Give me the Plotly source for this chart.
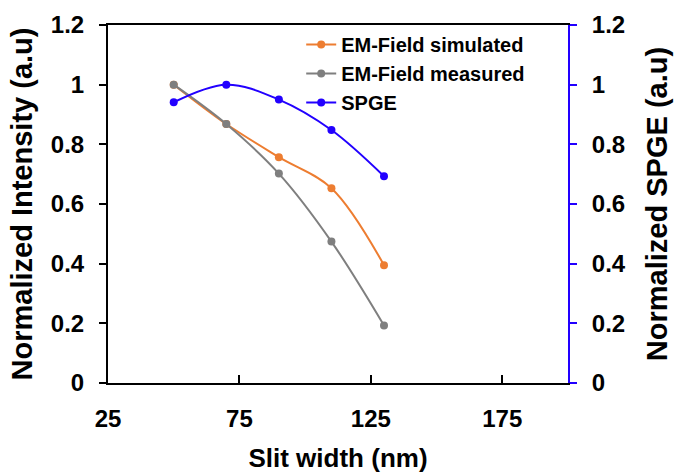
import plotly.graph_objects as go

slit_width = [50, 70, 90, 110, 130]
em_simulated = [1.0, 0.868, 0.757, 0.653, 0.395]
em_measured = [1.0, 0.868, 0.702, 0.474, 0.193]
spge = [0.941, 1.0, 0.95, 0.848, 0.693]

x_ticks = [25, 75, 125, 175]
y_ticks = [0, 0.2, 0.4, 0.6, 0.8, 1.0, 1.2]
y_tick_text = ["0", "0.2", "0.4", "0.6", "0.8", "1", "1.2"]

font_family = "Liberation Sans, Arial, sans-serif"
BLUE = "#2200FF"

fig = go.Figure()
fig.add_trace(go.Scatter(x=slit_width, y=em_simulated, name="<b>EM-Field simulated</b>",
                         mode="lines+markers", line=dict(color="#ED7D31", width=2, shape="spline"),
                         marker=dict(size=8, color="#ED7D31")))
fig.add_trace(go.Scatter(x=slit_width, y=em_measured, name="<b>EM-Field measured</b>",
                         mode="lines+markers", line=dict(color="#7F7F7F", width=2, shape="spline"),
                         marker=dict(size=8, color="#7F7F7F")))
fig.add_trace(go.Scatter(x=slit_width, y=spge, name="<b>SPGE</b>", yaxis="y2",
                         mode="lines+markers", line=dict(color=BLUE, width=2, shape="spline"),
                         marker=dict(size=8, color=BLUE)))

fig.update_layout(
    width=680, height=473,
    margin=dict(l=108, r=112, t=25, b=90),
    paper_bgcolor="white", plot_bgcolor="white",
    font=dict(family=font_family, size=24, color="black"),
    showlegend=True,
    legend=dict(x=0.42, y=1.0, xanchor="left", yanchor="top", bgcolor="rgba(0,0,0,0)",
                font=dict(size=20, family=font_family, color="black"),
                tracegroupgap=0, itemwidth=30),
    xaxis=dict(range=[25, 200], tickvals=x_ticks, ticktext=[f"<b>{v}</b>" for v in x_ticks],
               showline=True, linecolor="black", linewidth=2, mirror=True,
               ticks="inside", ticklen=8, tickwidth=2, tickcolor="black",
               ticklabelstandoff=13, automargin=False,
               showgrid=False, zeroline=False,
               title=dict(text="<b>Slit width (nm)</b>", font=dict(size=26), standoff=18)),
    yaxis=dict(range=[0, 1.2], tickvals=y_ticks, ticktext=[f"<b>{t}</b>" for t in y_tick_text],
               showline=True, linecolor="black", linewidth=2,
               ticks="outside", ticklen=7, tickwidth=2, tickcolor="black",
               ticklabelstandoff=10, automargin=False,
               showgrid=False, zeroline=False,
               title=dict(text="<b>Normalized Intensity (a.u)</b>", font=dict(size=29), standoff=10)),
    yaxis2=dict(range=[0, 1.2], tickvals=y_ticks, ticktext=[f"<b>{t}</b>" for t in y_tick_text],
                overlaying="y", side="right",
                showline=True, linecolor=BLUE, linewidth=2,
                ticks="outside", ticklen=7, tickwidth=2, tickcolor=BLUE,
                ticklabelstandoff=10, automargin=False,
                showgrid=False, zeroline=False,
                title=dict(text="<b>Normalized SPGE (a.u)</b>", font=dict(size=29), standoff=22)),
)

fig.write_html("out.html")
